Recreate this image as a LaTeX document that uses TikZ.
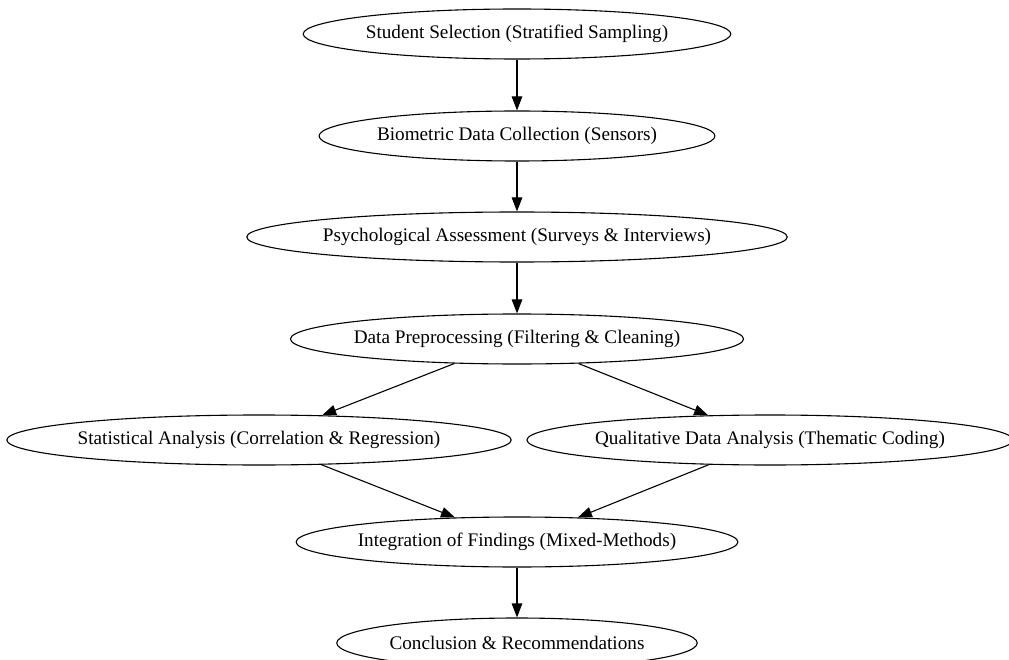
\documentclass[tikz,border=0pt]{standalone}
\usepackage{fontspec}
\setmainfont{Liberation Serif}
\usetikzlibrary{shapes.geometric,arrows.meta}
\tikzset{
  stage/.style={draw, ellipse, line width=1.1pt, inner xsep=0pt, inner ysep=0pt,
    minimum height=50pt, font=\fontsize{19.2pt}{23pt}\selectfont},
  narrow/.style={inner xsep=-3pt},
  flow/.style={line width=1.1pt, -{Triangle[length=14pt,width=10.5pt]}}
}

\begin{document}
\begin{tikzpicture}[x=1pt,y=1pt]
			%%%%% START %%%%%
			
			\useasboundingbox[fill=white] (0, 0) rectangle (1009, -660);
			
			\node[stage] (select) at (517, -34) {Student Selection (Stratified Sampling)};
			\node[stage] (biom) at (517, -136) {Biometric Data Collection (Sensors)};
			\node[stage, narrow] (psych) at (517, -237) {Psychological Assessment (Surveys \& Interviews)};
			\node[stage, narrow] (prep) at (517, -339) {Data Preprocessing (Filtering \& Cleaning)};
			
			\node[stage, narrow] (stat) at (259, -440) {Statistical Analysis (Correlation \& Regression)};
			\node[stage, narrow] (qual) at (770, -440) {Qualitative Data Analysis (Thematic Coding)};
			
			\node[stage, narrow] (integ) at (517, -542) {Integration of Findings (Mixed-Methods)};
			\node[stage] (concl) at (517, -643) {Conclusion \& Recommendations};
			
			\draw[flow] (select) -- (biom);
			\draw[flow] (biom) -- (psych);
			\draw[flow] (psych) -- (prep);
			\draw[flow] (prep) -- (stat);
			\draw[flow] (prep) -- (qual);
			\draw[flow] (stat) -- (integ);
			\draw[flow] (qual) -- (integ);
			\draw[flow] (integ) -- (concl);
			
			%%%%% END %%%%%
\end{tikzpicture}
\end{document}
